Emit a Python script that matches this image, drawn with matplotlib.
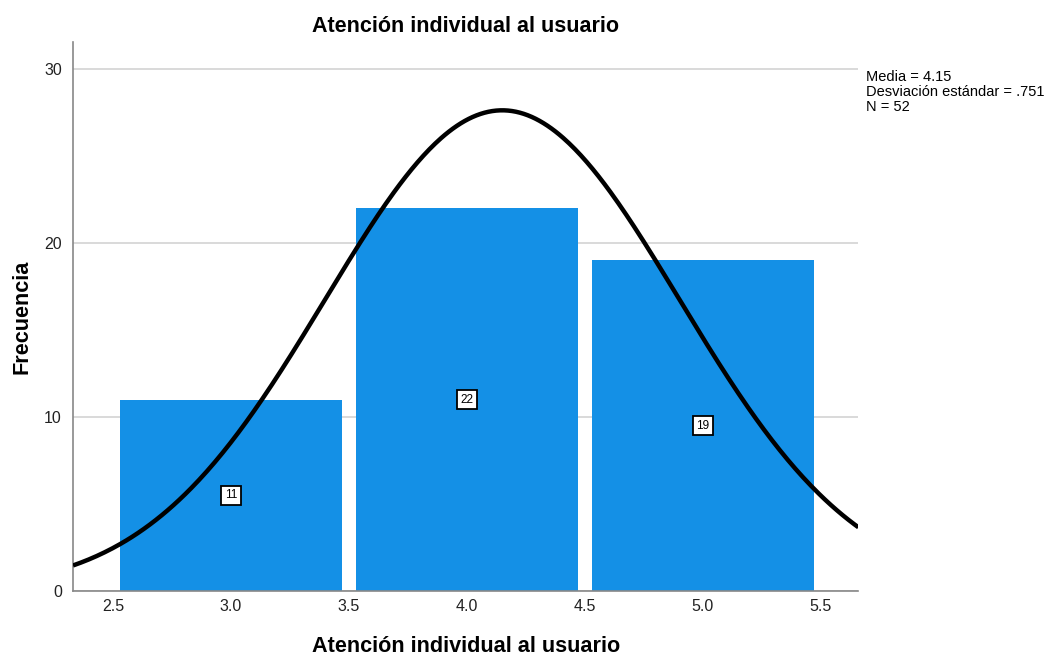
import numpy as np
import matplotlib.pyplot as plt

plt.rcParams['font.family'] = ['Liberation Sans', 'DejaVu Sans']

valores = [3, 4, 5]
frecuencias = [11, 22, 19]
media = 4.15
desv = 0.751
n = 52

fig = plt.figure(figsize=(10.49, 6.57), dpi=100)
ax = fig.add_axes([0.0696, 0.1005, 0.7487, 0.8356])

ax.bar(valores, frecuencias, width=0.94, color='#1490e6', zorder=2)

# normal curve scaled to counts (bin width 1)
xs = np.linspace(2.33, 5.66, 400)
ys = n / (desv * np.sqrt(2 * np.pi)) * np.exp(-0.5 * ((xs - media) / desv) ** 2)
ax.plot(xs, ys, color='black', lw=3.2, zorder=4, solid_capstyle='butt')

for v, f in zip(valores, frecuencias):
    ax.text(v, f / 2, str(f), ha='center', va='center', fontsize=8.5, zorder=5,
            bbox=dict(boxstyle='square,pad=0.3', fc='white', ec='black', lw=1.3))

ax.set_xlim(2.33, 5.66)
ax.set_ylim(0, 31.55)
ax.set_xticks([2.5, 3.0, 3.5, 4.0, 4.5, 5.0, 5.5])
ax.set_xticklabels(['2.5', '3.0', '3.5', '4.0', '4.5', '5.0', '5.5'])
ax.set_yticks([0, 10, 20, 30])
ax.tick_params(length=0, labelsize=11.5, colors='#222222')
ax.tick_params(axis='x', pad=6)
ax.tick_params(axis='y', pad=8)
ax.yaxis.grid(True, color='#d3d3d3', lw=1.2, zorder=0)
ax.set_axisbelow(True)
for s in ['top', 'right']:
    ax.spines[s].set_visible(False)
for s in ['left', 'bottom']:
    ax.spines[s].set_color('#888888')
    ax.spines[s].set_linewidth(1.2)

ax.set_title('Atención individual al usuario', fontsize=15.5, fontweight='bold', pad=7)
ax.set_xlabel('Atención individual al usuario', fontsize=15.6, fontweight='bold')
ax.set_ylabel('Frecuencia', fontsize=15.6, fontweight='bold')
ax.xaxis.set_label_coords(0.5, -0.102)
ax.yaxis.set_label_coords(-0.065, 0.5)
ax.xaxis.label.set_va('center')
ax.yaxis.label.set_va('center')

fig.text(0.826, 0.894, 'Media = 4.15\nDesviación estándar = .751\nN = 52',
         fontsize=10.5, va='top', ha='left', linespacing=1.12)

fig.savefig('out.png', dpi=100)
